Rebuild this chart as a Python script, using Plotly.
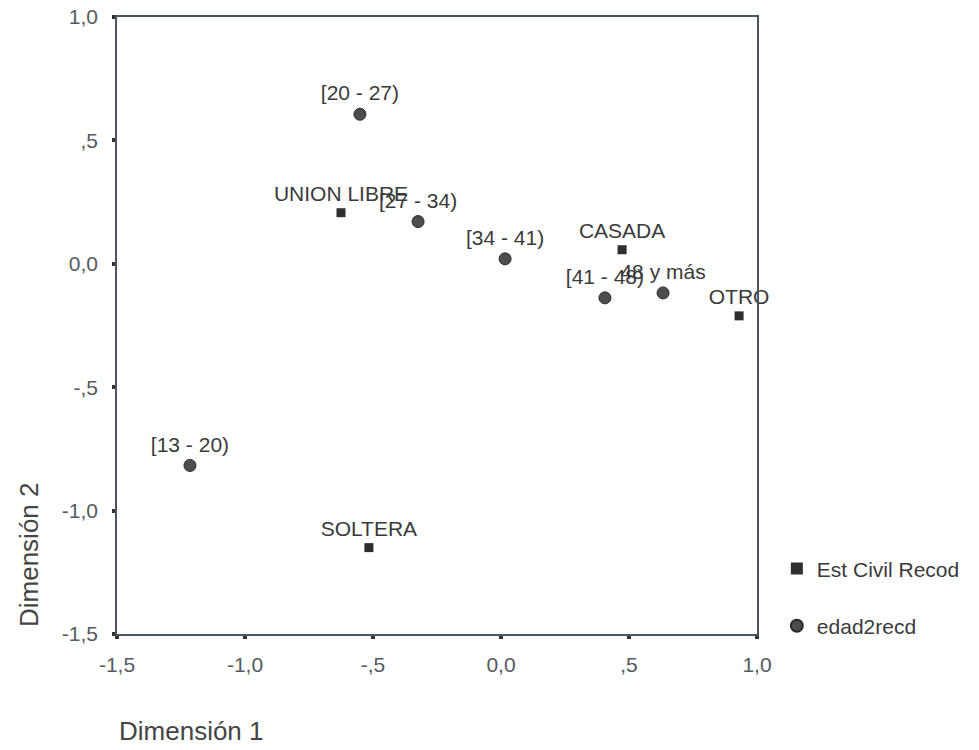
import plotly.graph_objects as go

# Correspondence analysis: row and column point coordinates
civil_labels = ["UNION LIBRE", "CASADA", "OTRO", "SOLTERA"]
civil_dim1 = [-0.625, 0.473, 0.930, -0.516]
civil_dim2 = [0.207, 0.057, -0.211, -1.150]

edad_labels = ["[13 - 20)", "[20 - 27)", "[27 - 34)", "[34 - 41)", "[41 - 48)", "48 y más"]
edad_dim1 = [-1.215, -0.551, -0.324, 0.016, 0.406, 0.633]
edad_dim2 = [-0.817, 0.606, 0.171, 0.020, -0.138, -0.118]

tick_vals = [-1.5, -1.0, -0.5, 0.0, 0.5, 1.0]
tick_text = ["-1,5", "-1,0", "-,5", "0,0", ",5", "1,0"]

FONT = "Liberation Sans, Arial, sans-serif"
TEXT_COLOR = "#3a3a3a"
AXIS_COLOR = "#4a5560"

fig = go.Figure()

fig.add_trace(go.Scatter(
    x=civil_dim1, y=civil_dim2, text=civil_labels,
    mode="markers+text", textposition="top center", cliponaxis=False,
    textfont=dict(family=FONT, size=21, color=TEXT_COLOR),
    marker=dict(symbol="square", size=9, color="#2e2e2e"),
    name="Est Civil Recod", legendgroup="a",
))
fig.add_trace(go.Scatter(
    x=edad_dim1, y=edad_dim2, text=edad_labels,
    mode="markers+text", textposition="top center", cliponaxis=False,
    textfont=dict(family=FONT, size=21, color=TEXT_COLOR),
    marker=dict(symbol="circle", size=12, color="#4d4d4d",
                line=dict(color="#2a2a2a", width=1)),
    name="edad2recd", legendgroup="b",
))

axis_common = dict(
    tickvals=tick_vals, ticktext=tick_text,
    showgrid=False, zeroline=False,
    showline=True, linecolor=AXIS_COLOR, linewidth=1.5, mirror=True,
    ticks="outside", ticklen=3, tickwidth=4, tickcolor="#333333",
    tickfont=dict(family=FONT, size=21, color="#555a60"),
)

fig.update_xaxes(range=[-1.5, 1.0], ticklabelstandoff=8, **axis_common)
fig.update_yaxes(range=[-1.5, 1.0], ticklabelstandoff=10, **axis_common)

fig.update_layout(
    width=979, height=750,
    margin=dict(l=117, r=222, t=17, b=116, autoexpand=False),
    plot_bgcolor="white", paper_bgcolor="white",
    showlegend=True,
    legend=dict(
        x=1.031, y=0.139, xanchor="left", yanchor="top",
        font=dict(family=FONT, size=21, color=TEXT_COLOR),
        tracegroupgap=27, itemsizing="constant",
        bgcolor="rgba(0,0,0,0)",
    ),
    annotations=[
        dict(text="Dimensión 1", xref="paper", yref="paper",
             x=0.0, y=-0.157, xanchor="left", yanchor="middle",
             showarrow=False, font=dict(family=FONT, size=26, color="#444444")),
        dict(text="Dimensión 2", xref="paper", yref="paper",
             x=-0.1375, y=0.128, xanchor="center", yanchor="middle", textangle=-90,
             showarrow=False, font=dict(family=FONT, size=26, color="#444444")),
    ],
)

fig.write_html("out.html")
